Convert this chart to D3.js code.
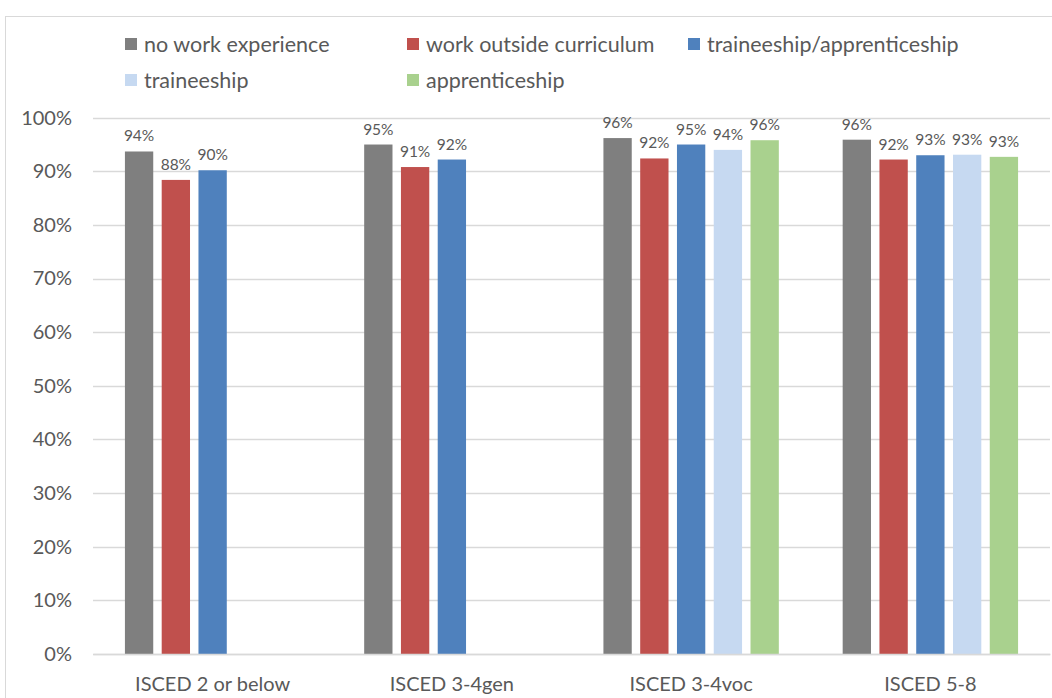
<html>
<script src="https://cdn.jsdelivr.net/npm/d3@7"></script>
<style>
body { margin: 0; background: #fff; font-family: Lato, "Open Sans", sans-serif; }
</style>
<body>
<svg id="chart"></svg>
<script>
// categories on the x axis
const categories = ["ISCED 2 or below", "ISCED 3-4gen", "ISCED 3-4voc", "ISCED 5-8"];
const seriesNames = ["no work experience", "work outside curriculum", "traineeship/apprenticeship", "traineeship", "apprenticeship"];
const seriesColors = ["#7f7f7f", "#c0504d", "#4f81bd", "#c6d9f1", "#a9d18e"];

// share of values per series (one value per category, null = no bar)
const noWork       = [93.7, 95.0, 96.2, 95.9];
const workOutside  = [88.4, 90.8, 92.4, 92.2];
const traineeApp   = [90.2, 92.2, 95.0, 93.0];
const traineeship  = [null, null, 94.0, 93.1];
const apprentice   = [null, null, 95.8, 92.7];
const labels = [
  ["94%", "95%", "96%", "96%"],
  ["88%", "91%", "92%", "92%"],
  ["90%", "92%", "95%", "93%"],
  [null, null, "94%", "93%"],
  [null, null, "96%", "93%"]
];
const yTicks = [0, 10, 20, 30, 40, 50, 60, 70, 80, 90, 100];

const allSeries = [noWork, workOutside, traineeApp, traineeship, apprentice];

const width = 1052, height = 698;
const svg = d3.select("#chart").attr("width", width).attr("height", height);

// outer frame
svg.append("rect")
  .attr("x", 5.5).attr("y", 16.5)
  .attr("width", 1100).attr("height", 800)
  .attr("fill", "none").attr("stroke", "#d9d9d9");

const x0 = d3.scaleBand().domain(categories).range([93, 1050]).padding(0);
const mid = x0.bandwidth() / 2;
const x1 = d3.scaleBand().domain(d3.range(seriesNames.length))
  .range([mid - 87.7, mid + 87.7]).paddingInner(0.23).paddingOuter(0);
const y = d3.scaleLinear().domain([0, 100]).range([654, 117.7]);

// grid lines
svg.append("g").selectAll("line")
  .data(yTicks)
  .join("line")
  .attr("x1", 93).attr("x2", 1050)
  .attr("y1", d => Math.round(y(d)) + 0.5).attr("y2", d => Math.round(y(d)) + 0.5)
  .attr("stroke", "#d9d9d9").attr("stroke-width", 1.3);

// y axis labels
const yAxis = svg.append("g")
  .attr("transform", "translate(72,0)")
  .call(d3.axisLeft(y).tickValues(yTicks).tickFormat(d => d + "%").tickSize(0).tickPadding(0));
yAxis.select(".domain").remove();
yAxis.selectAll("text")
  .attr("font-family", "Lato, sans-serif")
  .attr("font-size", 20).attr("fill", "#595959");

// bars
const groups = svg.append("g").selectAll("g")
  .data(categories)
  .join("g")
  .attr("transform", d => `translate(${x0(d)},0)`);

groups.each(function(cat, ci) {
  const g = d3.select(this);
  allSeries.forEach((vals, si) => {
    const v = vals[ci];
    if (v == null) return;
    g.append("rect")
      .attr("x", x1(si)).attr("width", x1.bandwidth())
      .attr("y", y(v)).attr("height", y(0) - y(v))
      .attr("fill", seriesColors[si]);
    g.append("text")
      .attr("x", x1(si) + x1.bandwidth() / 2)
      .attr("y", y(v) - 10)
      .attr("text-anchor", "middle")
      .attr("font-size", 15.5).attr("fill", "#595959")
      .text(labels[si][ci]);
  });
});

// x axis
const xAxis = svg.append("g")
  .attr("transform", "translate(0,654)")
  .call(d3.axisBottom(x0).tickSize(0).tickPadding(23));
xAxis.select(".domain").attr("stroke", "#d9d9d9").attr("stroke-width", 1.3);
xAxis.selectAll("text")
  .attr("font-family", "Lato, sans-serif")
  .attr("font-size", 20).attr("fill", "#595959");

// legend
const legendPos = [[125, 44], [407, 44], [688, 44], [125, 80], [407, 80]];
const legend = svg.append("g").selectAll("g")
  .data(seriesNames)
  .join("g")
  .attr("transform", (d, i) => `translate(${legendPos[i][0]},${legendPos[i][1]})`);
legend.append("rect")
  .attr("x", 0).attr("y", -6).attr("width", 12).attr("height", 12)
  .attr("fill", (d, i) => seriesColors[i]);
legend.append("text")
  .attr("x", 19).attr("y", 0).attr("dy", "0.35em")
  .attr("font-size", 21.5).attr("fill", "#595959")
  .text(d => d);
</script>
</body>
</html>
